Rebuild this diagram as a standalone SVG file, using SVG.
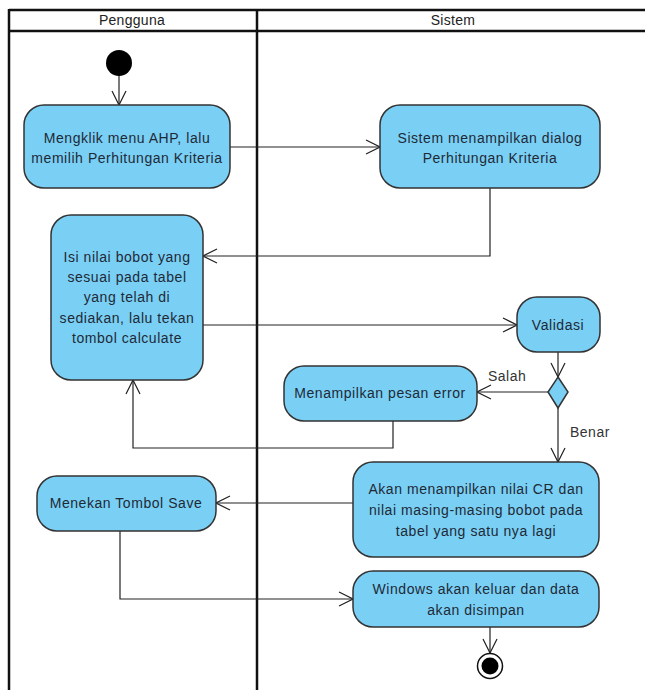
<svg xmlns="http://www.w3.org/2000/svg" width="645" height="690" viewBox="0 0 645 690">
<defs>
<style>
.lane{stroke:#111;stroke-width:2.5;fill:none}
.node{fill:#7acff5;stroke:#333;stroke-width:1.5}
.t{font-family:"Liberation Sans",Arial,sans-serif;font-size:14px;letter-spacing:0.55px;fill:#1e2a36;text-anchor:middle}
.h{font-family:"Liberation Sans",Arial,sans-serif;font-size:14px;letter-spacing:0.3px;fill:#222;text-anchor:middle}
.c{stroke:#222;stroke-width:1.2;fill:none}
.lbl{font-family:"Liberation Sans",Arial,sans-serif;font-size:14px;letter-spacing:0.5px;fill:#333}
</style>
<marker id="arr" viewBox="0 0 16 16" refX="15" refY="8" markerWidth="16" markerHeight="16" markerUnits="userSpaceOnUse" orient="auto">
<path d="M1,1 L15,8 L1,15" fill="none" stroke="#222" stroke-width="1.2"/>
</marker>
</defs>
<rect width="645" height="690" fill="#fff"/>
<g id="lanes">
<line class="lane" x1="9" y1="10" x2="645" y2="10"/>
<line class="lane" x1="9" y1="31" x2="645" y2="31"/>
<line class="lane" x1="9" y1="9" x2="9" y2="690"/>
<line class="lane" x1="257" y1="9" x2="257" y2="690"/>
<text class="h" x="132" y="25">Pengguna</text>
<text class="h" x="453" y="25">Sistem</text>
</g>
<g id="connectors">
<line class="c" x1="119" y1="75" x2="119" y2="105" marker-end="url(#arr)"/>
<line class="c" x1="230" y1="147" x2="380" y2="147" marker-end="url(#arr)"/>
<polyline class="c" points="490,188 490,256 203,256" marker-end="url(#arr)"/>
<line class="c" x1="202" y1="325" x2="517" y2="325" marker-end="url(#arr)"/>
<line class="c" x1="558" y1="352" x2="558" y2="377" marker-end="url(#arr)"/>
<line class="c" x1="548" y1="392" x2="477" y2="392" marker-end="url(#arr)"/>
<polyline class="c" points="393,421 393,448 133,448 133,380" marker-end="url(#arr)"/>
<line class="c" x1="558" y1="408" x2="558" y2="462" marker-end="url(#arr)"/>
<line class="c" x1="353" y1="503" x2="216" y2="503" marker-end="url(#arr)"/>
<polyline class="c" points="120,531 120,599 353,599" marker-end="url(#arr)"/>
<line class="c" x1="490" y1="627" x2="490" y2="653" marker-end="url(#arr)"/>
<text class="lbl" x="488" y="381">Salah</text>
<text class="lbl" x="570" y="437">Benar</text>
</g>
<g id="start"><circle cx="119" cy="63" r="13" fill="#000"/></g>
<g id="n1">
<rect class="node" x="24" y="105" width="206" height="83" rx="20"/>
<text class="t" x="127" y="143">Mengklik menu AHP, lalu</text>
<text class="t" x="127" y="163">memilih Perhitungan Kriteria</text>
</g>
<g id="n2">
<rect class="node" x="380" y="105" width="220" height="83" rx="20"/>
<text class="t" x="490" y="143">Sistem menampilkan dialog</text>
<text class="t" x="490" y="163">Perhitungan Kriteria</text>
</g>
<g id="n3">
<rect class="node" x="51" y="215" width="152" height="165" rx="20"/>
<text class="t" x="127" y="262">Isi nilai bobot yang</text>
<text class="t" x="127" y="282">sesuai pada tabel</text>
<text class="t" x="127" y="302">yang telah di</text>
<text class="t" x="127" y="323">sediakan, lalu tekan</text>
<text class="t" x="127" y="343">tombol calculate</text>
</g>
<g id="validasi">
<rect class="node" x="517" y="297" width="83" height="55" rx="20"/>
<text class="t" x="558" y="330">Validasi</text>
</g>
<g id="decision">
<polygon class="node" points="558,377 568,392 558,408 548,392"/>
</g>
<g id="error">
<rect class="node" x="284" y="366" width="193" height="55" rx="20"/>
<text class="t" x="380" y="398">Menampilkan pesan error</text>
</g>
<g id="cr">
<rect class="node" x="353" y="462" width="246" height="95" rx="20"/>
<text class="t" x="476" y="494">Akan menampilkan nilai CR dan</text>
<text class="t" x="476" y="515">nilai masing-masing bobot pada</text>
<text class="t" x="476" y="536">tabel yang satu nya lagi</text>
</g>
<g id="save">
<rect class="node" x="37" y="476" width="179" height="55" rx="20"/>
<text class="t" x="126" y="508">Menekan Tombol Save</text>
</g>
<g id="windows">
<rect class="node" x="353" y="571" width="246" height="56" rx="20"/>
<text class="t" x="476" y="594">Windows akan keluar dan data</text>
<text class="t" x="476" y="615">akan disimpan</text>
</g>
<g id="end">
<circle cx="490" cy="666" r="12.5" fill="#fff" stroke="#111" stroke-width="1.5"/>
<circle cx="490" cy="666" r="8.5" fill="#000"/>
</g>
</svg>
